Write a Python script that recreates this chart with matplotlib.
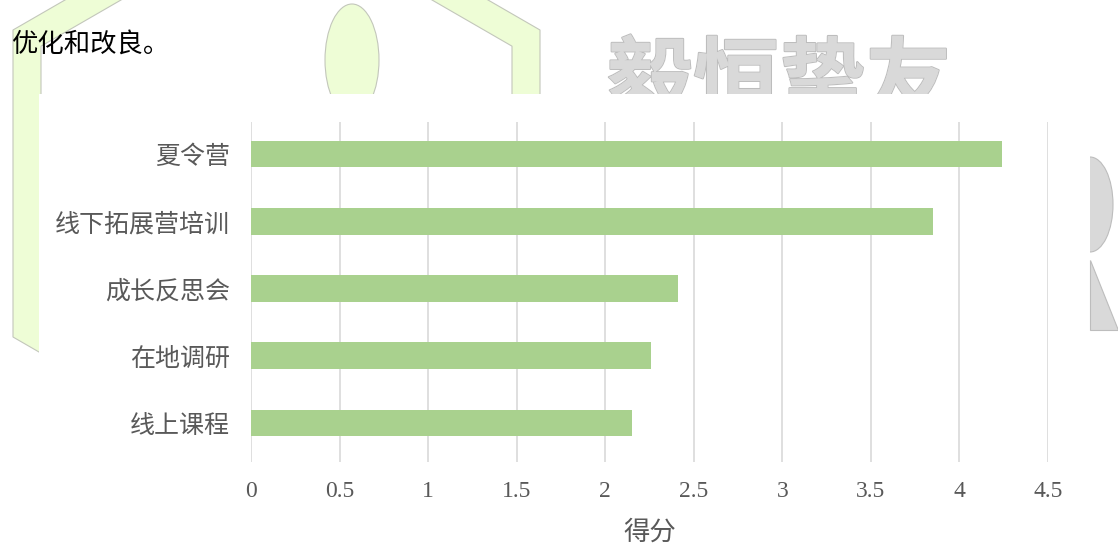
import matplotlib
matplotlib.use("Agg")
import matplotlib.pyplot as plt
from matplotlib.patches import PathPatch, Ellipse, Rectangle, Polygon
from matplotlib.path import Path
import matplotlib.patheffects as pe
import numpy as np

# ---- data ----
categories = ["线上课程", "在地调研", "成长反思会", "线下拓展营培训", "夏令营"]
scores = [2.15, 2.26, 2.41, 3.85, 4.24]
x_ticks = [0, 0.5, 1, 1.5, 2, 2.5, 3, 3.5, 4, 4.5]
x_tick_labels = ["0", "0.5", "1", "1.5", "2", "2.5", "3", "3.5", "4", "4.5"]
x_label = "得分"
header_text = "优化和改良。"
watermark_text = "毅恒挚友"

CJK = ["Noto Sans CJK SC", "DejaVu Sans"]
SERIF = ["Liberation Serif", "Noto Sans CJK SC", "DejaVu Sans"]
plt.rcParams["font.family"] = CJK

W, H = 1118, 544
fig = plt.figure(figsize=(W / 100, H / 100), dpi=100)
fig.patch.set_facecolor("white")

# ---- background (document page decorations) ----
bg = fig.add_axes([0, 0, 1, 1], zorder=0)
bg.set_xlim(0, W)
bg.set_ylim(H, 0)
bg.axis("off")

green_fill = "#eefdd6"
green_edge = "#c3c7bb"

# hexagonal band
t = 28.0
xl, xr = 13.0, 540.0
cx = (xl + xr) / 2
ytop, ybot = 30.0, 337.0
k = np.tan(np.radians(30))
apex_t = ytop - (cx - xl) * k
apex_b = ybot + (cx - xl) * k
outer = [(xl, ytop), (cx, apex_t), (xr, ytop), (xr, ybot), (cx, apex_b), (xl, ybot)]
dy = t / np.sqrt(3)
dap = t / np.sin(np.radians(60))
inner = [(xl + t, ytop + dy), (cx, apex_t + dap), (xr - t, ytop + dy),
         (xr - t, ybot - dy), (cx, apex_b - dap), (xl + t, ybot - dy)]
verts = outer + [outer[0]] + inner[::-1] + [inner[-1]]
codes = ([Path.MOVETO] + [Path.LINETO] * 5 + [Path.CLOSEPOLY]) * 2
band = PathPatch(Path(verts, codes), facecolor=green_fill, edgecolor=green_edge, lw=0.8, zorder=1)
bg.add_patch(band)

# oval
bg.add_patch(Ellipse((352, 60), 54, 112, facecolor=green_fill, edgecolor=green_edge, lw=0.8, zorder=1))

# gray R fragment at right edge
gray_fill = "#d9d9d9"
gray_edge = "#bdbdbd"
bg.add_patch(Ellipse((1090, 204.5), 46, 95, facecolor=gray_fill, edgecolor=gray_edge, lw=0.8, zorder=1))
bg.add_patch(Rectangle((1060, 150), 30, 110, facecolor="white", edgecolor="none", zorder=1.5))
bg.add_patch(Polygon([(1090, 260), (1090, 330), (1118, 330)], closed=True,
                     facecolor=gray_fill, edgecolor=gray_edge, lw=0.8, zorder=1))

# watermark text
bg.text(607, 109, watermark_text, fontsize=62, fontweight="bold", color=gray_fill,
        ha="left", va="baseline", family=CJK, zorder=2,
        path_effects=[pe.withStroke(linewidth=1.5, foreground=gray_edge), pe.Normal()])

# header text
bg.text(11, 44, header_text, fontsize=19, fontweight="medium", color="black",
        ha="left", va="center", family=CJK, zorder=3)

# white chart box
bg.add_patch(Rectangle((39, 94), 1049, 460, facecolor="white", edgecolor="none", zorder=5))

# ---- chart ----
left_px, right_px = 251, 1048
top_px, bot_px = 122, 462
ax = fig.add_axes([left_px / W, 1 - bot_px / H, (right_px - left_px) / W, (bot_px - top_px) / H],
                  zorder=2)
ax.patch.set_alpha(0)

ypos = np.arange(len(categories))
ax.barh(ypos, scores, height=0.40, color="#a9d18e", zorder=3)

ax.set_xlim(0, 4.5)
ax.set_ylim(-0.58, 4.476)
ax.set_xticks(x_ticks)
ax.set_xticklabels(x_tick_labels, family=SERIF, fontsize=17, color="#595959")
ax.set_yticks(ypos)
ax.set_yticklabels(categories, family=CJK, fontsize=18, color="#595959")
ax.tick_params(axis="x", length=0, pad=14)
ax.tick_params(axis="y", length=0, pad=15)
ax.grid(axis="x", color="#d9d9d9", linewidth=1.2, zorder=0)
ax.set_axisbelow(True)
for s in ax.spines.values():
    s.set_visible(False)
ax.set_xlabel(x_label, family=CJK, fontsize=19, color="#595959", labelpad=12)

fig.savefig("out.png", dpi=100, facecolor="white")
